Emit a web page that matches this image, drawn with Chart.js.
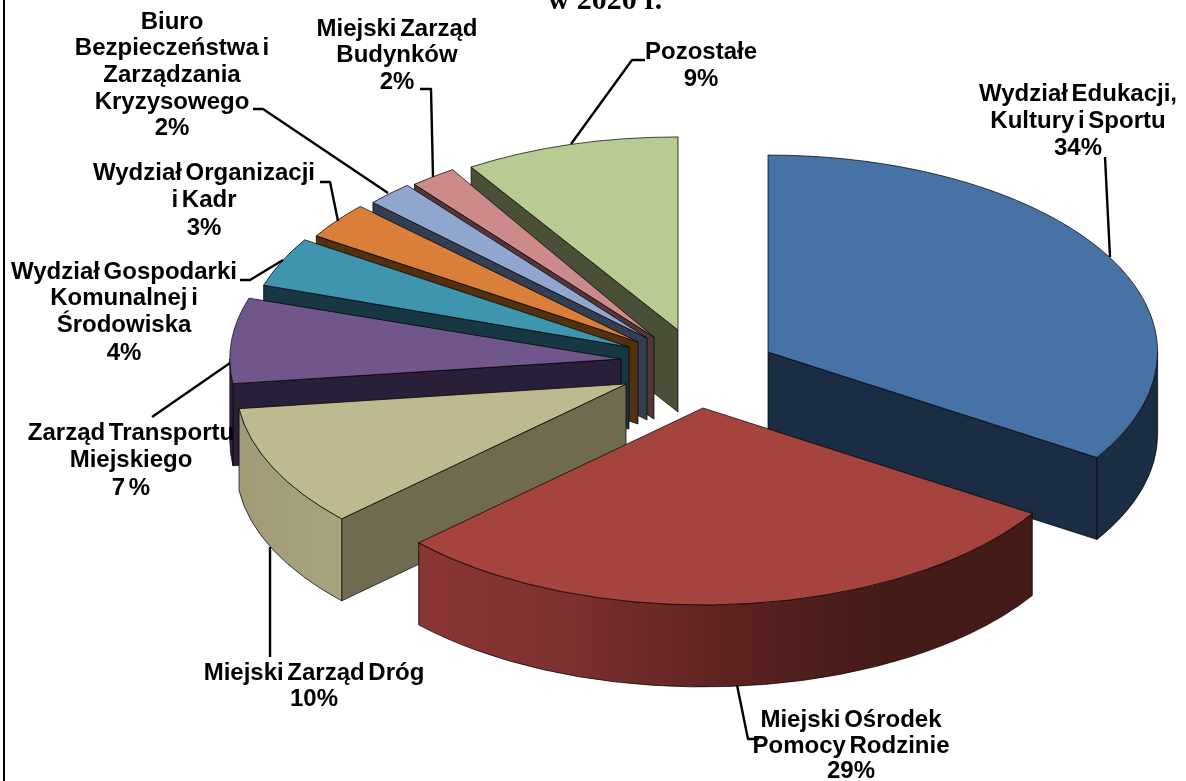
<!DOCTYPE html>
<html lang="pl">
<head>
<meta charset="utf-8">
<title>Wydatki</title>
<script src="https://cdn.jsdelivr.net/npm/chart.js@4/dist/chart.umd.js"></script>
<style>html,body{margin:0;padding:0;background:#fff;overflow:hidden}canvas{display:block}</style>
</head>
<body>
<canvas id="c" width="1186" height="781"></canvas>
<script>
// ---- data ----
const categories = [
  "Wydział Edukacji, Kultury i Sportu",
  "Miejski Ośrodek Pomocy Rodzinie",
  "Miejski Zarząd Dróg",
  "Zarząd Transportu Miejskiego",
  "Wydział Gospodarki Komunalnej i Środowiska",
  "Wydział Organizacji i Kadr",
  "Biuro Bezpieczeństwa i Zarządzania Kryzysowego",
  "Miejski Zarząd Budynków",
  "Pozostałe"
];
const shares = [34, 29, 10, 7, 4, 3, 2, 2, 9];
const titleTail = "w 2020 r.";

// ---- styling ----
const topColors  = ["#4672A6","#A5433F","#BFB98F","#71568C","#4095AE","#D97F3A","#90A6CF","#CC8B8A","#B8CB92"];
const faceColors = ["#1A2D45","#451B18","#6F6A50","#2A1F38","#173843","#53300F","#333E52","#553638","#4A5038"];
const wallStops  = [
  ["#1A2D45","#1A2D45"],
  ["#8A3635","#7D302F","#5E2321","#451B18","#451B18"],
  ["#A09A78","#A9A47F"],
  ["#2F2340","#2F2340"],
  ["#173843","#173843"],["#53300F","#53300F"],["#333E52","#333E52"],["#553638","#553638"],["#4A5038","#4A5038"]
];
// where each exploded slice's tip sits, and the tilt squash of each slice
const tipX = [768,703,626,621,629,638,647,654,678];
const tipY = [352,408,384,359,347,342,338,337,330];
const squashX = [.999,1,1,1.003,.985,.977,.964,.964,.99];
const squashY = [.505,.505,.505,.505,.513,.508,.508,.508,.495];
const depth = 82;
const drawOrder = [8,7,6,5,4,3,2,0,1];

const labelLines = [
  ["Wydział Edukacji,","Kultury i Sportu","34%"],
  ["Miejski Ośrodek","Pomocy Rodzinie","29%"],
  ["Miejski Zarząd Dróg","10%"],
  ["Zarząd Transportu","Miejskiego","7 %"],
  ["Wydział Gospodarki","Komunalnej i","Środowiska","4%"],
  ["Wydział Organizacji","i Kadr","3%"],
  ["Biuro","Bezpieczeństwa i","Zarządzania","Kryzysowego","2%"],
  ["Miejski Zarząd","Budynków","2%"],
  ["Pozostałe","9%"]
];
const labelCx = [1078,851,314,131,124,204,172,397,701];
const labelCy = [[94,121,148],[720,746,771],[673,699],[433,460,488],[272,298,325,353],[173,200,228],[22,48,75,102,128],[29,55,82],[52,79]];
const leaders = [
  [[1105,157],[1110,257]],
  [[737,685],[748,739],[759,739]],
  [[270,657],[270,547]],
  [[152,417],[230,363]],
  [[240,280],[250,280],[283,260]],
  [[320,182],[330,182],[338,221]],
  [[253,109],[263,109],[388,193]],
  [[420,89],[431,89],[433,177]],
  [[645,60],[632,60],[571,144]]
];

const pie3d = {
  id: 'pie3d',
  beforeDatasetsDraw(chart) {
    const ctx = chart.ctx;
    const arcs = chart.getDatasetMeta(0).data;
    for (const i of drawOrder) {
      const arc = arcs[i];
      const a0 = arc.startAngle, a1 = arc.endAngle;
      const R = arc.outerRadius;
      const x = tipX[i], y = tipY[i];
      const rx = R * squashX[i], ry = R * squashY[i];
      const rim = t => [x + rx * Math.cos(t), y + ry * Math.sin(t)];
      ctx.save();
      ctx.lineWidth = 0.9;
      ctx.lineJoin = 'round';
      ctx.strokeStyle = 'rgba(0,0,0,.8)';
      // cut faces that look towards the viewer
      const face = t => {
        const p = rim(t);
        ctx.beginPath();
        ctx.moveTo(x, y);
        ctx.lineTo(p[0], p[1]);
        ctx.lineTo(p[0], p[1] + depth);
        ctx.lineTo(x, y + depth);
        ctx.closePath();
        ctx.fillStyle = faceColors[i];
        ctx.fill();
        ctx.stroke();
      };
      if (Math.cos(a0) < -1e-6) face(a0);
      if (Math.cos(a1) > 1e-6) face(a1);
      // curved outer wall, front half only
      const w0 = Math.max(a0, 0), w1 = Math.min(a1, Math.PI);
      if (w1 > w0) {
        const left = rim(w1)[0], right = rim(w0)[0];
        const g = ctx.createLinearGradient(left, 0, Math.max(right, left + 1), 0);
        wallStops[i].forEach((c, k, all) => g.addColorStop(k / (all.length - 1), c));
        ctx.beginPath();
        ctx.ellipse(x, y, rx, ry, 0, w0, w1);
        ctx.ellipse(x, y + depth, rx, ry, 0, w1, w0, true);
        ctx.closePath();
        ctx.fillStyle = g;
        ctx.fill();
        ctx.stroke();
      }
      // top of the slice: the library's own arc element, tilted
      ctx.save();
      ctx.translate(x, y);
      ctx.scale(squashX[i], squashY[i]);
      ctx.translate(-arc.x, -arc.y);
      arc.draw(ctx);
      ctx.restore();
      ctx.beginPath();
      ctx.moveTo(x, y);
      ctx.ellipse(x, y, rx, ry, 0, a0, a1);
      ctx.closePath();
      ctx.stroke();
      ctx.restore();
    }
    return false;
  },
  afterDraw(chart) {
    const ctx = chart.ctx;
    ctx.save();
    // frame line on the left edge
    ctx.fillStyle = '#000';
    ctx.fillRect(3, 0, 2, chart.height);
    // clipped title tail
    ctx.font = 'bold 30px "Liberation Serif"';
    ctx.textAlign = 'center';
    ctx.textBaseline = 'alphabetic';
    ctx.fillStyle = '#000';
    ctx.fillText(titleTail, 605, 9);
    // leader lines
    ctx.strokeStyle = '#000';
    ctx.lineWidth = 2.4;
    ctx.lineJoin = 'round';
    for (const pts of leaders) {
      ctx.beginPath();
      pts.forEach((p, k) => k ? ctx.lineTo(p[0], p[1]) : ctx.moveTo(p[0], p[1]));
      ctx.stroke();
    }
    // labels
    ctx.font = 'bold 24px "Liberation Sans"';
    ctx.textBaseline = 'middle';
    ctx.wordSpacing = '-3px';
    labelLines.forEach((lines, i) => {
      lines.forEach((line, k) => ctx.fillText(line, labelCx[i], labelCy[i][k]));
    });
    ctx.restore();
  }
};

new Chart(document.getElementById('c'), {
  type: 'pie',
  data: {
    labels: categories,
    datasets: [{
      data: shares,
      backgroundColor: topColors,
      borderWidth: 0,
      offset: 0
    }]
  },
  options: {
    responsive: false,
    animation: false,
    layout: { padding: 0 },
    radius: 390,
    plugins: { legend: { display: false }, tooltip: { enabled: false }, title: { display: false } }
  },
  plugins: [pie3d]
});
</script>
</body>
</html>
